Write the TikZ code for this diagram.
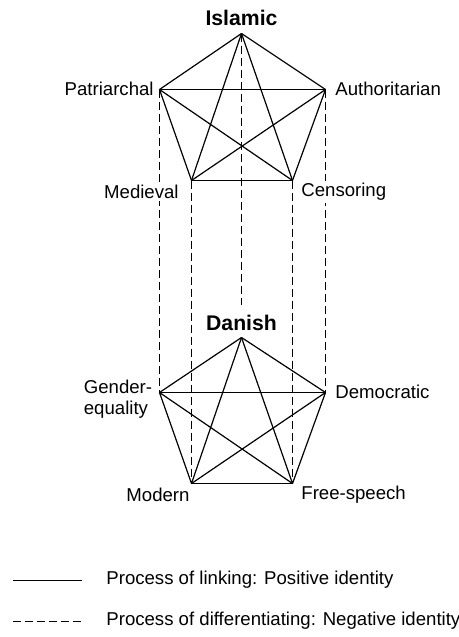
\documentclass[tikz,border=0pt]{standalone}
\usepackage{fontspec}
\setmainfont{Liberation Sans}
\begin{document}
\begin{tikzpicture}[x=0.5pt,y=-0.5pt,
  solidlink/.style={line width=0.6pt},
  dashlink/.style={line width=0.6pt,dash pattern=on 4pt off 2pt},
  lbl/.style={font=\fontsize{9.3pt}{10.5pt}\selectfont,inner sep=1pt,fill=white},
  ttl/.style={font=\fontsize{10.6pt}{12pt}\selectfont\bfseries,inner sep=1pt,fill=white}]
\useasboundingbox (0,0) rectangle (459,637);
% top pentagon vertices
\coordinate (I) at (241.5,33.5);
\coordinate (P) at (159.5,89.5);
\coordinate (A) at (325.5,89.5);
\coordinate (M) at (191.5,180.5);
\coordinate (C) at (292.5,180.5);
% bottom pentagon vertices
\coordinate (D) at (241.5,337.5);
\coordinate (G) at (159.5,392.5);
\coordinate (E) at (325.5,392.5);
\coordinate (O) at (191.5,483.5);
\coordinate (F) at (292.5,483.5);
\coordinate (Iend) at (241.5,305);
% top complete graph
\foreach \a/\b in {I/P,I/A,I/M,I/C,P/A,P/M,P/C,A/M,A/C,M/C}
  \draw[solidlink] (\a) -- (\b);
% bottom complete graph
\foreach \a/\b in {D/G,D/E,D/O,D/F,G/E,G/O,G/F,E/O,E/F,O/F}
  \draw[solidlink] (\a) -- (\b);
% dashed differentiation lines
\draw[dashlink] (I) -- (Iend);
\draw[dashlink] (P) -- (G);
\draw[dashlink] (A) -- (E);
\draw[dashlink] (M) -- (O);
\draw[dashlink] (C) -- (F);
% labels (drawn over the lines)
\node[ttl] (tI) at (241.5,18) {Islamic};
\node[ttl] (tD) at (241.5,323) {Danish};
\node[lbl,anchor=east] (lP) at (156,89) {Patriarchal};
\node[lbl,anchor=west] (lA) at (333,89) {Authoritarian};
\node[lbl,anchor=east] (lM) at (181,192) {Medieval};
\node[lbl,anchor=west] (lC) at (299,192) {Censoring};
\node[lbl,anchor=west,align=left] (lG) at (81.5,399.5) {Gender-\\equality};
\node[lbl,anchor=west] (lE) at (333,392) {Democratic};
\node[lbl] (lO) at (158,495) {Modern};
\node[lbl,anchor=west] (lF) at (299,495) {Free-speech};
% legend
\coordinate (s1) at (13,580.5);
\coordinate (s2) at (82,580.5);
\coordinate (d1) at (13,621.5);
\coordinate (d2) at (82,621.5);
\draw[solidlink] (s1) -- (s2);
\draw[dashlink] (d1) -- (d2);
\node[lbl,anchor=west] (leg1) at (104,580) {Process of linking: Positive identity};
\node[lbl,anchor=west] (leg2) at (104,621) {Process of differentiating: Negative identity};
\end{tikzpicture}
\end{document}
